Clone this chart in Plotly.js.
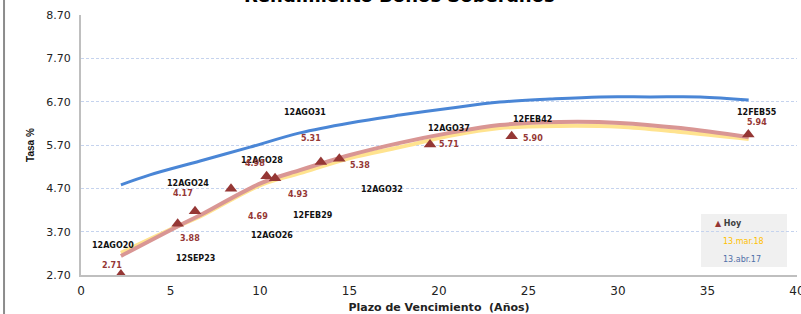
<!DOCTYPE html>
<html>
<head>
<meta charset="utf-8">
<script src="https://cdn.plot.ly/plotly-3.0.1.min.js"></script>
<style>html,body{margin:0;padding:0;background:#fff;}#chart{width:801px;height:314px;}</style>
</head>
<body>
<div id="chart"></div>
<script>
// Hoy: bond points
const bondNames = ["12AGO20","12SEP23","12AGO24","12AGO26","12AGO28","12FEB29","12AGO31","12AGO32","12AGO37","12FEB42","12FEB55"];
const bondYears = [2.23, 5.4, 6.37, 8.38, 10.37, 10.84, 13.4, 14.43, 19.5, 24.06, 37.28];
const bondRates = [2.71, 3.88, 4.17, 4.69, 4.98, 4.93, 5.31, 5.38, 5.71, 5.90, 5.94];

// Curves
const hoyCurveX = [2.23, 5.53, 6.65, 10.06, 12.23, 15.03, 17.82, 20.6, 23.4, 26.76, 30.1, 33.5, 37.3];
const hoyCurveY = [3.14, 3.85, 4.08, 4.82, 5.12, 5.47, 5.75, 5.98, 6.16, 6.23, 6.21, 6.09, 5.88];
const mar18X = [2.23, 5.53, 6.65, 10.06, 12.23, 15.03, 17.82, 20.6, 23.4, 26.76, 30.1, 33.5, 37.3];
const mar18Y = [3.21, 3.85, 4.05, 4.78, 5.05, 5.40, 5.65, 5.91, 6.09, 6.14, 6.12, 6.00, 5.84];
const abr17X = [2.23, 3.85, 6.65, 9.44, 12.23, 15.03, 17.82, 20.6, 23.4, 26.2, 29.0, 31.8, 34.6, 37.3];
const abr17Y = [4.78, 5.01, 5.33, 5.65, 5.98, 6.21, 6.39, 6.55, 6.69, 6.76, 6.81, 6.81, 6.81, 6.74];

const yTicks = [2.7, 3.7, 4.7, 5.7, 6.7, 7.7, 8.7];
const xTicks = [0, 5, 10, 15, 20, 25, 30, 35, 40];

// label placements (data coords) for names and values
const nameLabelPos = [[1.79,3.39],[6.37,3.09],[5.98,4.82],[10.67,3.62],[10.11,5.35],[12.96,4.08],[12.51,6.44],[16.82,4.68],[20.56,6.07],[25.25,6.28],[37.77,6.46]];
const valueLabelPos = [[1.73,2.93],[6.09,3.55],[5.70,4.59],[9.89,4.04],[9.72,5.28],[12.12,4.55],[12.85,5.84],[15.59,5.22],[20.56,5.72],[25.25,5.86],[37.77,6.23]];

const traces = [
  {x: mar18X, y: mar18Y, mode: 'lines', line: {color: '#ffe38f', width: 4, shape: 'spline'}, name: '13.mar.18', hoverinfo: 'skip'},
  {x: hoyCurveX, y: hoyCurveY, mode: 'lines', line: {color: '#d99694', width: 4, shape: 'spline'}, name: 'Hoy curva', hoverinfo: 'skip'},
  {x: abr17X, y: abr17Y, mode: 'lines', line: {color: '#4a86d6', width: 3, shape: 'spline'}, name: '13.abr.17'},
  {x: bondYears, y: bondRates, mode: 'markers', marker: {symbol: 'triangle-up', size: 11, color: '#953735'}, name: 'Hoy', text: bondNames}
];

const annotations = [];
bondNames.forEach((n, i) => {
  annotations.push({x: nameLabelPos[i][0], y: nameLabelPos[i][1], xref: 'x', yref: 'y', text: '<b>' + n + '</b>', showarrow: false, font: {family: 'DejaVu Sans', size: 8, color: '#111'}});
  annotations.push({x: valueLabelPos[i][0], y: valueLabelPos[i][1], xref: 'x', yref: 'y', text: '<b>' + bondRates[i].toFixed(2) + '</b>', showarrow: false, font: {family: 'DejaVu Sans', size: 8, color: '#953735'}});
});
// legend
annotations.push({x: 0.882, y: 0.197, xref: 'paper', yref: 'paper', xanchor: 'left', yanchor: 'middle', showarrow: false, text: '<span style="color:#953735">▲</span> <b>Hoy</b>', font: {family: 'DejaVu Sans', size: 8, color: '#404040'}});
annotations.push({x: 0.894, y: 0.127, xref: 'paper', yref: 'paper', xanchor: 'left', yanchor: 'middle', showarrow: false, text: '13.mar.18', font: {family: 'DejaVu Sans', size: 8, color: '#ffc000'}});
annotations.push({x: 0.894, y: 0.058, xref: 'paper', yref: 'paper', xanchor: 'left', yanchor: 'middle', showarrow: false, text: '13.abr.17', font: {family: 'DejaVu Sans', size: 8, color: '#4f6fa8'}});
// chart title (mostly cut at the top edge, as in the reference)
annotations.push({x: 0.4455, y: 1.075, xref: 'paper', yref: 'paper', xanchor: 'center', yanchor: 'middle', showarrow: false, text: '<b>Rendimiento Bonos Soberanos</b>', font: {family: 'DejaVu Sans', size: 18, color: '#000'}});

const layout = {
  width: 801, height: 314,
  margin: {l: 81, r: 4, t: 15, b: 39},
  paper_bgcolor: '#ffffff', plot_bgcolor: '#ffffff',
  showlegend: false,
  xaxis: {
    range: [0, 40], tickvals: xTicks, ticktext: xTicks.map(String), showgrid: false, zeroline: false,
    showline: true, linecolor: '#bfbfbf', linewidth: 2, ticks: '', ticklabeloverflow: 'allow', ticklabelstandoff: 4,
    tickfont: {family: 'DejaVu Sans', size: 12, color: '#222'},
    title: {text: '<b>Plazo de Vencimiento  (Años)</b>', font: {family: 'DejaVu Sans', size: 11, color: '#222'}, standoff: 8}
  },
  yaxis: {
    range: [2.7, 8.7], tickvals: yTicks, ticktext: yTicks.map(v => v.toFixed(2)), showgrid: true,
    gridcolor: '#c5d3ee', griddash: '3px,2px', gridwidth: 1, zeroline: false,
    showline: true, linecolor: '#bfbfbf', linewidth: 2, ticks: '', ticklabelstandoff: 6,
    tickfont: {family: 'DejaVu Sans', size: 11, color: '#222'},
    title: {text: '<b>Tasa %</b>', font: {family: 'Liberation Sans Narrow, Liberation Sans', size: 10, color: '#111'}, standoff: 10}
  },
  shapes: [
    {type: 'rect', xref: 'paper', yref: 'paper', x0: 0.866, x1: 0.986, y0: 0.031, y1: 0.235, fillcolor: '#f0f0f0', line: {width: 0}, layer: 'below'},
    {type: 'line', xref: 'paper', yref: 'paper', x0: -0.1075, x1: -0.1075, y0: -0.2, y1: 1.1, line: {color: '#8c8c8c', width: 2}}
  ],
  annotations: annotations
};

Plotly.newPlot('chart', traces, layout, {displayModeBar: false, staticPlot: true});
</script>
</body>
</html>
